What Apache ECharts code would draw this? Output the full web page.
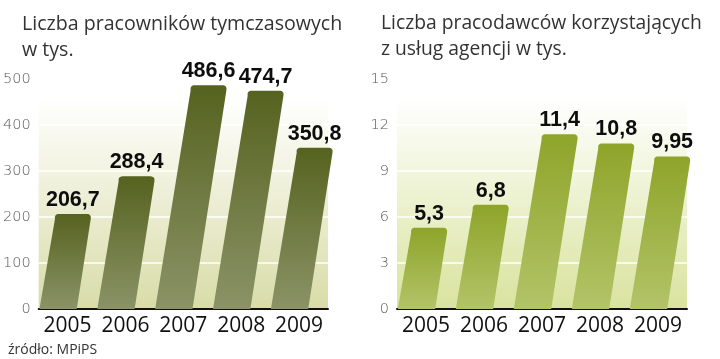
<!DOCTYPE html>
<html>
<head>
<meta charset="utf-8">
<script src="https://cdn.jsdelivr.net/npm/echarts@6/dist/echarts.min.js"></script>
<style>
html,body{margin:0;padding:0;background:#fff;}
#chart{width:720px;height:359px;}
</style>
</head>
<body>
<div id="chart"></div>
<script>
const years = ['2005', '2006', '2007', '2008', '2009'];
const workers = [206.7, 288.4, 486.6, 474.7, 350.8];
const employers = [5.3, 6.8, 11.4, 10.8, 9.95];
const leftTitle = 'Liczba pracowników tymczasowych\nw tys.';
const rightTitle = 'Liczba pracodawców korzystających\nz usług agencji w tys.';
const sourceText = 'źródło: MPiPS';

const chart = echarts.init(document.getElementById('chart'), null, {renderer: 'canvas'});

function fmt(v) { return String(v).replace('.', ','); }

function makeRender(topColor, bottomColor) {
  return function (params, api) {
    const cat = api.value(0), val = api.value(1);
    const base = api.coord([cat, 0]);
    const top = api.coord([cat, val]);
    const band = api.size([1, 0])[0];
    const w = band * 0.645;
    const h = base[1] - top[1];
    const off0 = -9.5, k = 0.155, r = 5;
    const bx = base[0] + off0;
    const tx = bx + k * h;
    const yb = base[1], yt = top[1];
    const pts = [];
    pts.push([bx - w / 2, yb]);
    pts.push([bx + w / 2, yb]);
    const trx = tx + w / 2, tlx = tx - w / 2;
    function quad(p0, c, p1) {
      for (let i = 0; i <= 6; i++) {
        const t = i / 6;
        const a = (1 - t) * (1 - t), b = 2 * (1 - t) * t, d = t * t;
        pts.push([a * p0[0] + b * c[0] + d * p1[0], a * p0[1] + b * c[1] + d * p1[1]]);
      }
    }
    quad([trx - k * r, yt + r], [trx, yt], [trx - r, yt]);
    quad([tlx + r, yt], [tlx, yt], [tlx + k * r, yt + r]);
    return {
      type: 'group',
      children: [
        {
          type: 'polygon',
          shape: {points: pts},
          style: {
            fill: {type: 'linear', x: 0, y: 0, x2: 0, y2: 1,
              colorStops: [{offset: 0, color: topColor}, {offset: 1, color: bottomColor}]}
          }
        },
        {
          type: 'text',
          style: {
            text: fmt(val),
            x: tx, y: yt - 3,
            textAlign: 'center', align: 'center',
            textVerticalAlign: 'bottom', verticalAlign: 'bottom',
            fontSize: 21.5, fontWeight: 'bold',
            fontFamily: '"Liberation Sans", Arial, sans-serif',
            fill: '#0d0d0d'
          }
        }
      ]
    };
  };
}

function bgGrad(c) {
  return {type: 'linear', x: 0, y: 0, x2: 0, y2: 1,
    colorStops: [{offset: 0, color: '#ffffff'}, {offset: 0.08, color: '#ffffff'}, {offset: 1, color: c}]};
}

const yLabel = {fontSize: 14.5, color: '#555', fontFamily: '"DejaVu Sans", sans-serif', fontWeight: 200, margin: 8};
const xLabel = {fontSize: 21, color: '#111', fontFamily: '"Open Sans", sans-serif', margin: 7, interval: 0, hideOverlap: false};

chart.setOption({
  animation: false,
  backgroundColor: '#ffffff',
  title: [
    {text: leftTitle, left: 17, top: 6,
      textStyle: {fontSize: 19.6, fontWeight: 'normal', color: '#333', lineHeight: 26, fontFamily: '"Open Sans", sans-serif'}},
    {text: rightTitle, left: 376, top: 6,
      textStyle: {fontSize: 19.3, fontWeight: 'normal', color: '#333', lineHeight: 26, fontFamily: '"Open Sans", sans-serif'}},
    {text: sourceText, left: 3, top: 338,
      textStyle: {fontSize: 14, fontWeight: 'normal', color: '#333', fontFamily: '"Open Sans", sans-serif'}}
  ],
  grid: [
    {left: 38, right: 392, top: 79, bottom: 50, show: true, borderWidth: 0, backgroundColor: bgGrad('#d9dca8')},
    {left: 397, right: 33, top: 79, bottom: 50, show: true, borderWidth: 0, backgroundColor: bgGrad('#d9e39e')}
  ],
  xAxis: [
    {type: 'category', gridIndex: 0, data: years, axisTick: {show: false},
      axisLine: {lineStyle: {color: '#111', width: 2}}, axisLabel: xLabel},
    {type: 'category', gridIndex: 1, data: years, axisTick: {show: false},
      axisLine: {lineStyle: {color: '#111', width: 2}}, axisLabel: xLabel}
  ],
  yAxis: [
    {type: 'value', gridIndex: 0, min: 0, max: 500, interval: 100,
      axisLine: {show: false}, axisTick: {show: false}, axisLabel: yLabel,
      splitLine: {lineStyle: {color: '#ffffff', width: 1.5}}},
    {type: 'value', gridIndex: 1, min: 0, max: 15, interval: 3,
      axisLine: {show: false}, axisTick: {show: false}, axisLabel: yLabel,
      splitLine: {lineStyle: {color: '#ffffff', width: 1.5}}}
  ],
  series: [
    {type: 'custom', xAxisIndex: 0, yAxisIndex: 0, encode: {x: 0, y: 1},
      data: workers.map((v, i) => [i, v]), renderItem: makeRender('#56621f', '#8b9367'), z: 1},
    {type: 'custom', xAxisIndex: 1, yAxisIndex: 1, encode: {x: 0, y: 1},
      data: employers.map((v, i) => [i, v]), renderItem: makeRender('#8fa42a', '#b3c368'), z: 1}
  ]
});
</script>
</body>
</html>
